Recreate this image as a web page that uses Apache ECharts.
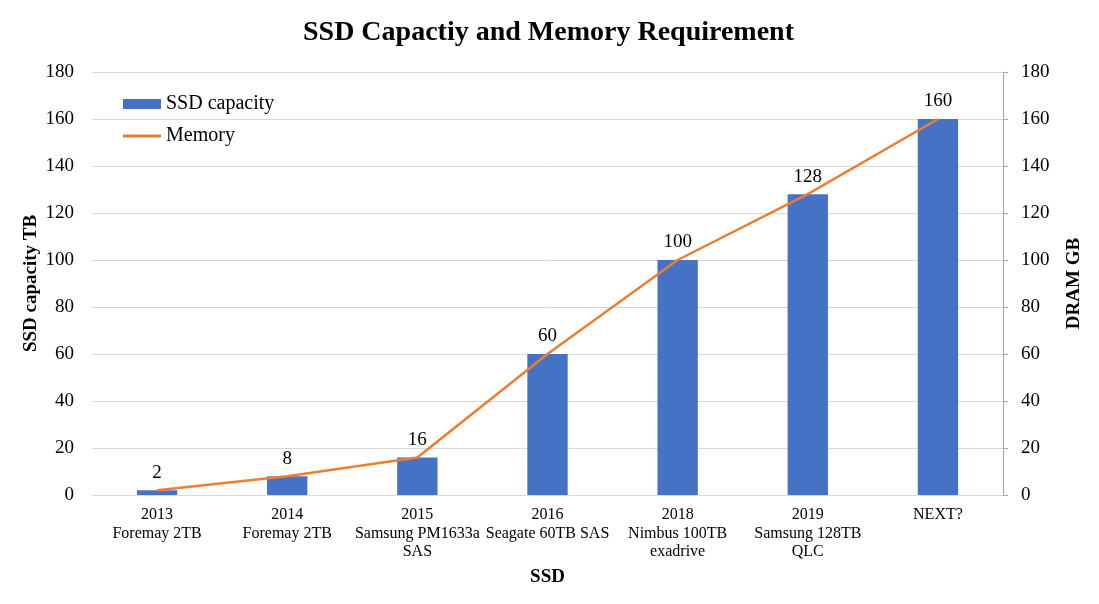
<!DOCTYPE html>
<html><head><meta charset="utf-8">
<script src="https://cdn.jsdelivr.net/npm/echarts@6/dist/echarts.min.js"></script>
<style>html,body{margin:0;padding:0;background:#fff}#c{width:1099px;height:604px}</style>
</head><body><div id="c"></div>
<script>
const categories = ['2013\nForemay 2TB','2014\nForemay 2TB','2015\nSamsung PM1633a\nSAS','2016\nSeagate 60TB SAS','2018\nNimbus 100TB\nexadrive','2019\nSamsung 128TB\nQLC','NEXT?'];
const ssdCapacity = [2, 8, 16, 60, 100, 128, 160];
const memory = [2, 8, 16, 60, 100, 128, 160];
const font = '"Liberation Serif", "Times New Roman", serif';
const chart = echarts.init(document.getElementById('c'));
chart.setOption({
  animation: false,
  textStyle: {fontFamily: font},
  title: {text: 'SSD Capactiy and Memory Requirement', left: 298, top: 14,
    textStyle: {fontFamily: font, fontSize: 28, fontWeight: 'bold', color: '#000'}},
  legend: {orient: 'vertical', left: 118, top: 89, itemGap: 12, itemWidth: 38, itemHeight: 10,
    textStyle: {fontFamily: font, fontSize: 20, color: '#000'},
    data: [{name: 'SSD capacity', icon: 'rect'}, {name: 'Memory', icon: 'path://M0,3.5 L38,3.5 L38,6.5 L0,6.5 Z', itemStyle: {color: '#ED7D31'}}]},
  grid: {left: 92, right: 96, top: 72, bottom: 109},
  xAxis: {type: 'category', data: categories, name: 'SSD', nameLocation: 'middle', nameGap: 73, nameMoveOverlap: false,
    nameTextStyle: {fontFamily: font, fontSize: 19, fontWeight: 'bold', color: '#000'},
    axisLine: {lineStyle: {color: '#d9d9d9'}}, axisTick: {show: false},
    axisLabel: {fontFamily: font, fontSize: 16, color: '#000', lineHeight: 18.5, interval: 0, margin: 11}},
  yAxis: [
    {type: 'value', min: 0, max: 180, interval: 20, name: 'SSD capacity TB', nameLocation: 'middle', nameGap: 51, nameMoveOverlap: false,
      nameTextStyle: {fontFamily: font, fontSize: 19, fontWeight: 'bold', color: '#000'},
      axisLine: {show: false}, axisTick: {show: false},
      axisLabel: {fontFamily: font, fontSize: 19, color: '#000', margin: 18},
      splitLine: {lineStyle: {color: '#d9d9d9'}}},
    {type: 'value', min: 0, max: 180, interval: 20, name: 'DRAM GB', nameLocation: 'middle', nameGap: 62, nameMoveOverlap: false,
      nameTextStyle: {fontFamily: font, fontSize: 19, fontWeight: 'bold', color: '#000'},
      axisLine: {show: true, lineStyle: {color: '#a6a6a6'}}, axisTick: {show: true, length: 5, lineStyle: {color: '#a6a6a6'}},
      axisLabel: {fontFamily: font, fontSize: 19, color: '#000', margin: 18},
      splitLine: {show: false}}
  ],
  series: [
    {name: 'SSD capacity', type: 'bar', data: ssdCapacity, barWidth: '31%', itemStyle: {color: '#4472C4'},
      label: {show: true, position: 'top', distance: 8, fontFamily: font, fontSize: 19, color: '#000'}},
    {name: 'Memory', type: 'line', yAxisIndex: 1, data: memory, symbol: 'none',
      lineStyle: {color: '#ED7D31', width: 2.5}, itemStyle: {color: '#ED7D31'}}
  ]
});
</script></body></html>
